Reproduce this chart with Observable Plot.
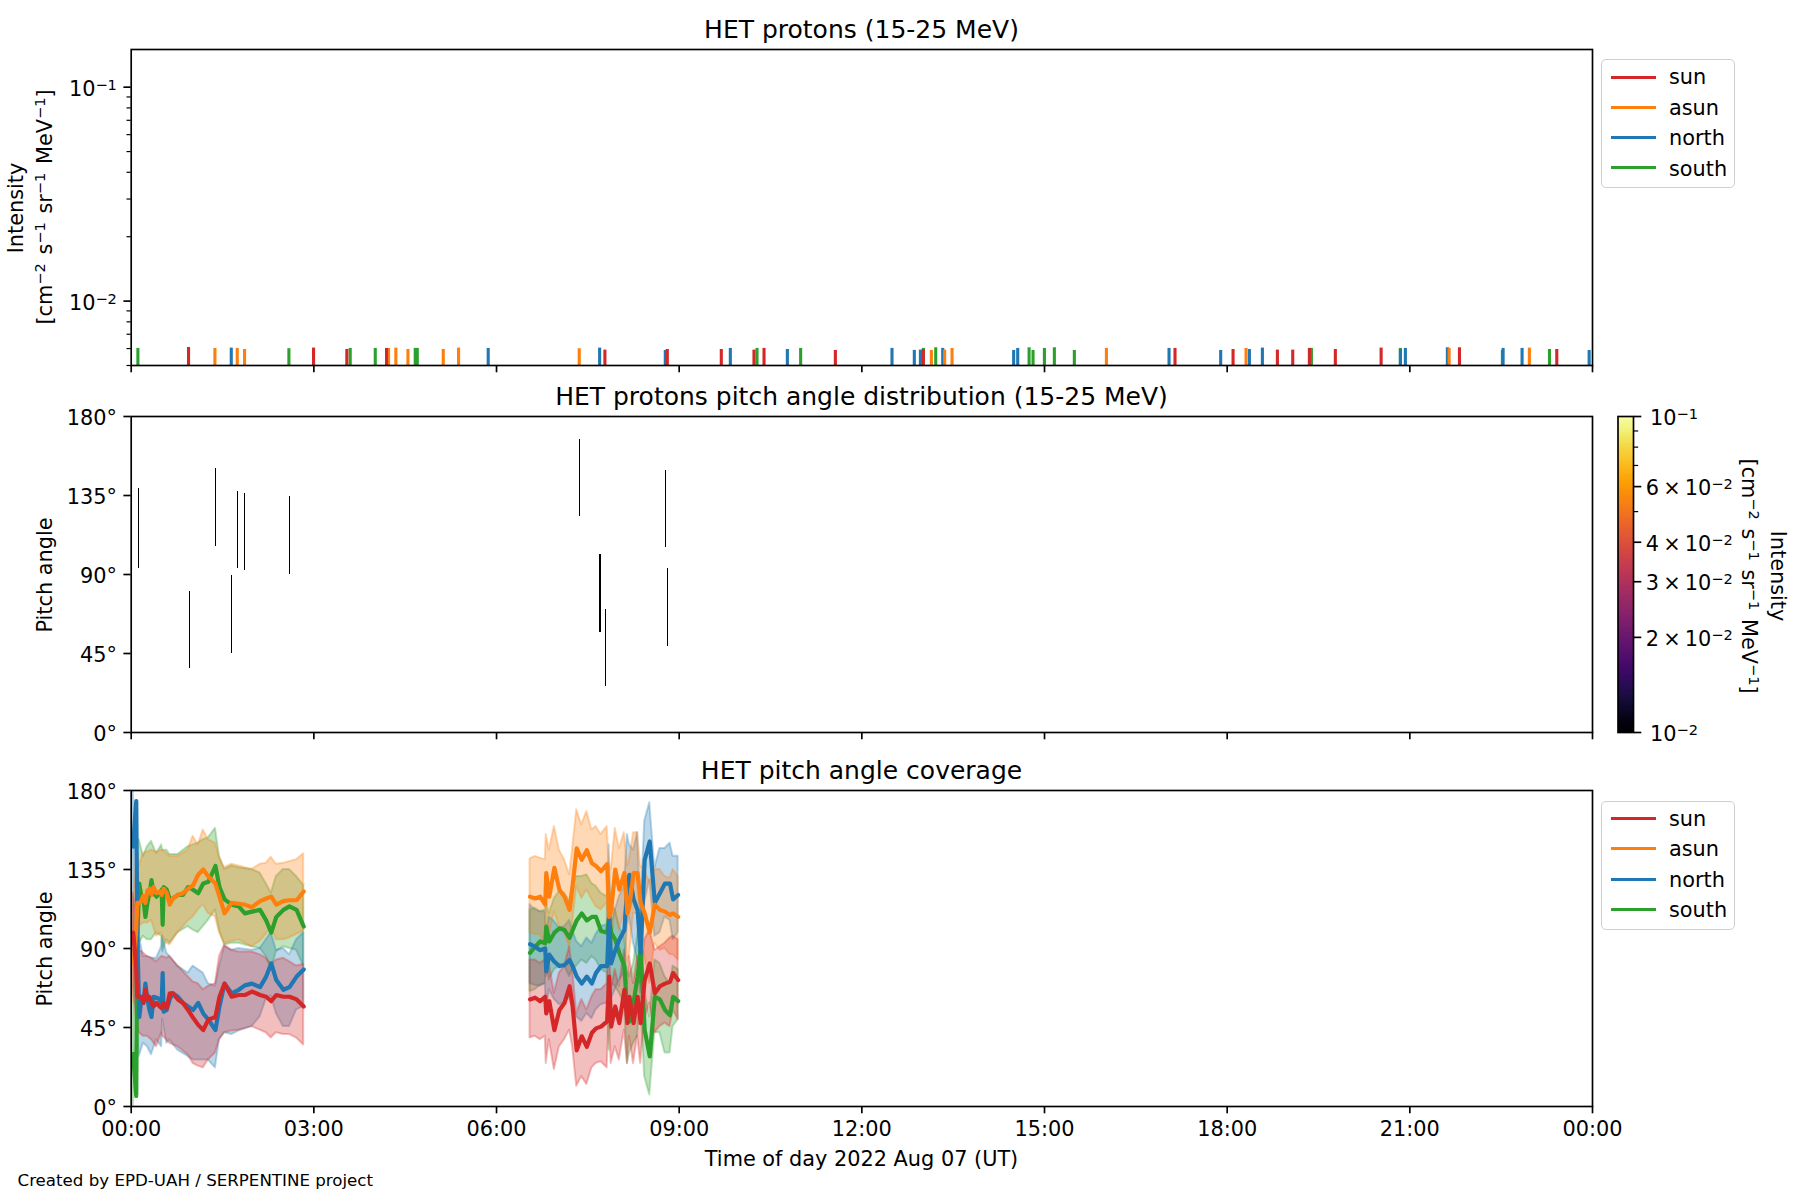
<!DOCTYPE html>
<html>
<head>
<meta charset="utf-8">
<script src="https://cdn.jsdelivr.net/npm/d3@7"></script>
<script src="https://cdn.jsdelivr.net/npm/@observablehq/plot@0.6"></script>
<style>
html,body{margin:0;padding:0;background:#fff;}
#fig{position:relative;width:1800px;height:1200px;overflow:hidden;font-family:"DejaVu Sans",sans-serif;color:#000;}
#fig svg{position:absolute;left:0;background:transparent;max-width:none;}
.t{position:absolute;white-space:nowrap;line-height:1;}
.t sup{font-size:.7em;vertical-align:.45em;line-height:0;}
.units{word-spacing:2px;}
.legend{position:absolute;box-sizing:border-box;border:1.7px solid #cfcfcf;border-radius:5px;background:#fff;}
.legend .sw{position:absolute;height:3.1px;}
.legend .lb{position:absolute;line-height:1;font-size:20.83px;}
</style>
</head>
<body>
<div id="fig"></div>
<script>
// ---------- series ----------
const seriesNames = ["sun", "asun", "north", "south"];
const seriesColors = ["#d62728", "#ff7f0e", "#1f77b4", "#2ca02c"];
const drawOrder = ["south", "north", "asun", "sun"];

// ---------- panel 1: intensity points (minutes after 00:00, intensity) ----------
const sunRugMin = [56.5,179.7,212.5,251.6,466.8,528.3,581.5,613.7,623.6,693.9,780.6,1028.6,1085.8,1129.5,1144.6,1161,1186.6,1231.7,1308.9,1404.8];
const sunRugVal = [.00607,.00603,.00594,.00601,.0059,.00594,.00594,.0059,.00601,.00588,.00594,.00601,.00594,.0059,.0059,.00601,.00594,.00603,.00605,.00594];
const asunRugMin = [82.5,104.5,111.7,253.6,260.8,272.7,307.5,322.6,441.5,788.5,801.6,808.9,961,1098.6,1298.7,1377.8];
const asunRugVal = [.00601,.00601,.00594,.00601,.00603,.00594,.00594,.00603,.00599,.00588,.0059,.00601,.00601,.00601,.00601,.00603];
const northRugMin = [98.6,351.8,461.6,526.3,590.4,646.6,749.7,771.7,777.7,799.7,869.6,873.6,1022.7,1073.6,1101.9,1114.7,1250.7,1255.6,1297,1351.9,1370.6,1436.7];
const northRugVal = [.00603,.00601,.00603,.00588,.00601,.00594,.00601,.00588,.0059,.00601,.00588,.00601,.00601,.00588,.00594,.00603,.00594,.00601,.00605,.00601,.00601,.00588];
const southRugMin = [6.6,155.4,215.8,240.5,279.9,281.9,616.7,659.7,780.6,792.8,884.8,888.7,899.9,909.7,929.4,1163,1250.7,1351.2,1397.6];
const southRugVal = [.00601,.00599,.00601,.00601,.00601,.00601,.00601,.00601,.00601,.00605,.00605,.00588,.00601,.00605,.00588,.00601,.00601,.00588,.00594];

// ---------- panel 2: pitch angle cells ----------
const padMin = [7.2,57.5,83.1,98.9,104.8,111.7,156,441.9,461.8,462.8,467.5,526.6,528.6];
const padLow = [93.4,36.5,105.9,45,93.4,92.3,90,123,57,57,26.2,105.4,49];
const padHigh = [138.8,80.1,150.2,89.2,137,136,134.2,166.7,101.2,101.2,69.9,149,93.2];
const padIntensity = [.006,.00607,.00601,.00603,.00601,.00594,.00599,.00599,.00603,.00603,.0059,.00588,.00594];

// ---------- panel 3: coverage, first stretch ----------
const mins1 = [2,3,5,6,8,10,12,14,16,18,20,22,25,28,30,31,32,35,38,41,46,51,56,61,66,71,76,83,87,92,99,106,112,119,127,133,138,143,150,156,163,170];
const asunMean1 = [82,85,101,116,116,117,120,116,123,124,120.5,125,121.5,122.5,120.5,122.5,124,121.5,115,118.5,120.5,121.5,124,126,132,135,131,127,119.5,110,116,115.5,115,113.5,117,118.5,119.5,115,117,117.5,117.5,122.5];
const southMean1 = [30,21,6,97,127,119.5,118,108,116,121.5,129,121.5,119.5,121.5,123.5,103.5,125,123.5,118,118.5,120.5,120.5,125,123.5,121.5,127,128,137,125,118,115,114,110,111,112,106,99,108,112,114,112,102.5];
const northMean1 = [148,157.5,174,97,51,61,59,70,61,55,51,62.5,62,61,59,76,54,55,61,64.5,62.5,59,57,55,59,53,49.5,43.5,57,70,64.5,66.5,69,70,68,74,81.5,72,66.5,68,74,78];
const sunMean1 = [99,93,78,62.5,62.5,62.5,59,66.5,61,62.5,59,57,59,57,56,57,59,56,64.5,64.5,61,59,55,50.5,46.5,43.5,49.5,51,62.5,70,62.5,63.5,63.5,65.5,63.5,62.5,60,63.5,62.5,62.5,61,57];

const bandMins1 = [2,6,8,12,16,20,25,30,31,35,38,46,56,61,66,71,76,83,87,92,99,106,119,127,133,138,143,150,156,163,170];
const asunHi1 = [116,146,137,144,145,146,145,146,146,144,142.5,142.5,146,154,149,157.5,152,150,141.5,136,138,137,135,138,138.5,142,138,138.5,139.5,140.5,144];
const asunLo1 = [59,97,102.5,104.5,104.5,106,97,99,97,93,92,99,105.5,108,112,115,110,108,99,93,94,95,91,94,98,102.5,95,95,96,98,100];
const southHi1 = [49,152,152,142.5,148,151,144,149,146,146,143.5,143.5,148,149,150,152,153,158.5,142.5,135,137,136,135,133,127,121.5,131,135,135,131,126];
const southLo1 = [0,47.5,93,97,95,95,99,97,88,95,93,99,102.5,100.5,99,102.5,106,112,100.5,92,93,93,91,90,85.5,78,88,91,90,89,80];
const northHi1 = [180,135,97,85.5,85.5,84.5,84.5,91,97,87.5,85.5,80,76,80,78,76,70,68.5,80,91,89,90,89,90,95,99,89,90,86.5,95,99];
const northLo1 = [97,40,28.5,36,34,29.5,38,34,49.5,36,38,32,28.5,26.5,26.5,26.5,26.5,22,38,42,41,43,45.5,51,61,63,53,45.5,45.5,55,57];
const sunHi1 = [121.5,106,89,87.5,85.5,84.5,82.5,85.5,85.5,84.5,85.5,80,74,71,70,66.5,68.5,70,85.5,92,89,88,88,86.5,84.5,81,83.5,84.5,82.5,80,81];
const sunLo1 = [68.5,45.5,42,40,40,38,34,42,40,38,36,34,29.5,24.5,23,22,26.5,30.5,38,42,43,43.5,45.5,43.5,42,39,42,41,41,39,35];

// ---------- panel 3: coverage, second stretch ----------
const mins2 = [393,398,403,408,409,412,417,422,427,432,435,439,444,449,454,458,463,469,471,473,477,481,486,489,491,495,499,502,506,511,516,521,526,531,534,539];
const asunMean2 = [119.5,118.5,119.5,115,133,119.5,136,123.5,119.5,112,126,147,140.5,146,138.5,137,134,138,108,112,135,123.5,133,110,114,133,133,116,110,99,115,112,111,109,110,108];
const southMean2 = [87.5,91,94,93,102.5,94,99,101.5,100.5,96,100.5,106,110,106,108,108,100,99,108,99,95,87.5,80,51,48.5,59,74,89,43.5,28.5,62.5,61,55,52,62.5,60];
const northMean2 = [92.5,91,89,90,77,86.5,82.5,80,80.5,83.5,80,74,70,74,70,76,80,80,108,81.5,89,95,100.5,127,132,118,112,87.5,140.5,151,116,121.5,127,127,118,120.5];
const sunMean2 = [61,62,60,62.5,53,60,43.5,55,59,68.5,57,32,40,34,42,44.5,45.5,48.5,74,45.5,57,47.5,66.5,47.5,62.5,47.5,62.5,47.5,72,81.5,64.5,68.5,70,71,76,72];
const asunHi2 = [141,142.5,141.5,140.5,155,146,159.5,146,140.5,132,147,169,160.5,168,157.5,159.5,155,159.5,137,135,158.5,147,156,137,140.5,156,156,137,135,127,135,135,131,130,135,131];
const asunLo2 = [99,98,98,91,112,97,111,102.5,99,91,104.5,125.5,118.5,123.5,118,114,112,116,80,87.5,112,100.5,110,81.5,85.5,110,110,95,85.5,70,93,89,90,86.5,86.5,83.5];
const southHi2 = [112,113,111,112,116,110,118.5,122.5,121.5,117,126,131,131,132,127,125.5,121.5,119.5,129,116,112,102.5,97,78,74,81.5,97,110,66.5,51,83.5,81.5,74,70,80,78];
const southLo2 = [65.5,66.5,69,70,81.5,72,78,80,80,74,78,80,83.5,81.5,85.5,83.5,78,76,32,70,68.5,64.5,59,24.5,30.5,36,40,62.5,17,6.5,42,42,30.5,30.5,45.5,49.5];
const northHi2 = [115,112,111,111,99,108,105.5,101.5,102.5,106,100.5,94,91,96,93,98,102.5,103.5,149,103.5,112,119.5,125.5,155,149,146,156,110,162.5,173,136,147,147,150,142.5,142.5];
const northLo2 = [70,69,68.5,70,55,66.5,61,58,59,62,57,51,48.5,53,50,55,58,59,68.5,61,66.5,72,76,102.5,108,93,83.5,64.5,116,129,97,99,108,106,95,99];
const sunHi2 = [83.5,83.5,81.5,83.5,74,81.5,64.5,76,80,91,78,53,61,55,62.5,66.5,66.5,70,99,66.5,78,68.5,89,70,85.5,70,85.5,70,95,100.5,89,91,93,96,97,95];
const sunLo2 = [39,40,38,40,24.5,38,21,34,38,43.5,34,11.5,17,12.5,22,24.5,25.5,22,51,24.5,34,26.5,43.5,24.5,40,24.5,40,24.5,49.5,59,42,45.5,47.5,45.5,55,49.5];

// ---------- ticks and texts ----------
const tickHours = [0,3,6,9,12,15,18,21,24];
const angleTicks = [0,45,90,135,180];
const intensityMajor = [0.01,0.1];
const intensityMinor = [0.005,0.006,0.007,0.008,0.009,0.02,0.03,0.04,0.05,0.06,0.07,0.08,0.09];
const cbarMajor = [0.01,0.02,0.03,0.04,0.06,0.1];
const cbarMinor = [0.05,0.07,0.08,0.09];
const cbarLabels = {0.01:"\u200910^−2",0.02:"2\u2009×\u200910^−2",0.03:"3\u2009×\u200910^−2",0.04:"4\u2009×\u200910^−2",0.06:"6\u2009×\u200910^−2",0.1:"\u200910^−1"};
const unitsHtml = "<span class='units'>[cm<sup>−2</sup> s<sup>−1</sup> sr<sup>−1</sup> MeV<sup>−1</sup>]</span>";

// ---------- helpers ----------
const fig = document.getElementById("fig");
const dayStart = Date.UTC(2022,7,7);
const at = m => new Date(dayStart + m*60000);
const xDomain = [at(0), at(1440)];
const tickDates = tickHours.map(h => at(h*60));
const colorOf = n => seriesColors[seriesNames.indexOf(n)];
const AXW = 1.67, TICK = 7.3, MINOR = 4.2, FS = 20.83;
const noLabel = () => "";

function put(plot, top){
  plot.style.top = top + "px";
  plot.querySelectorAll('g[aria-label="y-axis tick label"] text').forEach(t => t.setAttribute("y","0.42em"));
  plot.querySelectorAll("text").forEach(t => {
    const s = t.textContent;
    if (s.includes("^")) {
      const [a,b] = s.split("^");
      t.textContent = a;
      const sp = document.createElementNS("http://www.w3.org/2000/svg","tspan");
      sp.setAttribute("dy","-0.42em");
      sp.setAttribute("font-size","70%");
      sp.textContent = b;
      t.appendChild(sp);
    }
  });
  fig.appendChild(plot);
}
function text(html, x, y, size, rot){
  const d = document.createElement("div");
  d.className = "t";
  d.innerHTML = html;
  d.style.left = x + "px";
  d.style.top = y + "px";
  d.style.fontSize = size + "px";
  d.style.transform = "translate(-50%,-50%)" + (rot ? ` rotate(${rot}deg)` : "");
  fig.appendChild(d);
}
function leftText(html, x, y, size){
  const d = document.createElement("div");
  d.className = "t";
  d.innerHTML = html;
  d.style.left = x + "px";
  d.style.top = y + "px";
  d.style.fontSize = size + "px";
  d.style.transform = "translateY(-50%)";
  fig.appendChild(d);
}
function legend(top){
  const b = document.createElement("div");
  b.className = "legend";
  Object.assign(b.style,{left:"1601px",top:top+"px",width:"134px",height:"129px"});
  seriesNames.forEach((n,i) => {
    const sw = document.createElement("div");
    sw.className = "sw";
    Object.assign(sw.style,{left:"9px",width:"44.5px",top:(15.5+i*30.3)+"px",background:seriesColors[i]});
    b.appendChild(sw);
    const lb = document.createElement("div");
    lb.className = "lb";
    lb.textContent = n;
    Object.assign(lb.style,{left:"67px",top:(7+i*30.5)+"px"});
    b.appendChild(lb);
  });
  fig.appendChild(b);
}
const plotBase = {
  width:1800, marginLeft:130.7, marginRight:208, marginTop:10,
  style:{fontFamily:"DejaVu Sans",fontSize:FS+"px",background:"transparent",color:"#000",overflow:"visible"},
  x:{type:"utc",domain:xDomain}
};
function xAxis(labels){
  return Plot.axisX({ticks:tickDates,tickSize:TICK,strokeWidth:AXW,tickPadding:7,label:null,
    tickFormat: labels ? (d => d3.utcFormat("%H:%M")(d)) : noLabel, fontSize:FS});
}
function angleAxis(){
  return Plot.axisY({ticks:angleTicks,tickSize:TICK,strokeWidth:AXW,tickPadding:7,label:null,tickFormat:d=>d+"°",fontSize:FS});
}
const frame = Plot.frame({stroke:"#000",strokeWidth:AXW});

// ---------- panel 1 ----------
const rugs = {sun:[sunRugMin,sunRugVal],asun:[asunRugMin,asunRugVal],north:[northRugMin,northRugVal],south:[southRugMin,southRugVal]};
const rugMarks = drawOrder.map(n => Plot.ruleX(rugs[n][0].map((m,i)=>({t:at(m),v:rugs[n][1][i]})),
  {x:"t",y1:()=>0.005,y2:"v",stroke:colorOf(n),strokeWidth:3.1}));
put(Plot.plot({...plotBase,height:316+10+15,marginBottom:15,
  y:{type:"log",domain:[0.005,0.15]},
  marks:[
    ...rugMarks,
    Plot.axisY({ticks:intensityMinor,tickSize:MINOR,strokeWidth:1.2,tickFormat:noLabel,label:null}),
    Plot.axisY({ticks:intensityMajor,tickSize:TICK,strokeWidth:AXW,tickPadding:7,label:null,
      tickFormat:d=>d===0.1?"10^−1":"10^−2",fontSize:FS}),
    xAxis(false),frame
  ]}),39);

// ---------- panel 2 ----------
put(Plot.plot({...plotBase,height:316+10+15,marginBottom:15,
  y:{domain:[0,180]},
  color:{type:"log",domain:[0.01,0.1],scheme:"inferno",clamp:true},
  marks:[
    Plot.ruleX(padMin.map((m,i)=>({t:at(m),lo:padLow[i],hi:padHigh[i],v:padIntensity[i]})),
      {x:"t",y1:"lo",y2:"hi",stroke:"v",strokeWidth:1,shapeRendering:"crispEdges"}),
    angleAxis(),xAxis(false),frame
  ]}),406);

// ---------- panel 3 ----------
function rows(mins,cols){return mins.map((m,i)=>{const r={t:at(m)};for(const k in cols)r[k]=cols[k][i];return r;});}
const cover = {
  sun:[[mins1,sunMean1,bandMins1,sunLo1,sunHi1],[mins2,sunMean2,mins2,sunLo2,sunHi2]],
  asun:[[mins1,asunMean1,bandMins1,asunLo1,asunHi1],[mins2,asunMean2,mins2,asunLo2,asunHi2]],
  north:[[mins1,northMean1,bandMins1,northLo1,northHi1],[mins2,northMean2,mins2,northLo2,northHi2]],
  south:[[mins1,southMean1,bandMins1,southLo1,southHi1],[mins2,southMean2,mins2,southLo2,southHi2]]
};
const bandMarks = drawOrder.flatMap(n => cover[n].map(s => Plot.areaY(rows(s[2],{lo:s[3],hi:s[4]}),
  {x:"t",y1:"lo",y2:"hi",fill:colorOf(n),fillOpacity:0.3,stroke:colorOf(n),strokeOpacity:0.3,strokeWidth:2,clip:true})));
const lineMarks = drawOrder.flatMap(n => cover[n].map(s => Plot.lineY(rows(s[0],{v:s[1]}),
  {x:"t",y:"v",stroke:colorOf(n),strokeWidth:4.17,clip:true})));
put(Plot.plot({...plotBase,height:316+10+60,marginBottom:60,
  y:{domain:[0,180]},
  marks:[...bandMarks,...lineMarks,angleAxis(),xAxis(true),frame]}),780);

// ---------- colour bar ----------
const cbarStops = d3.range(256).map(i => [0.01*Math.pow(10,i/256),0.01*Math.pow(10,(i+1)/256)]);
put(Plot.plot({
  width:182,height:316+20,marginLeft:1.5,marginRight:165,marginTop:10,marginBottom:10,
  style:{fontFamily:"DejaVu Sans",fontSize:FS+"px",background:"transparent",color:"#000",overflow:"visible"},
  y:{type:"log",domain:[0.01,0.1]},
  color:{type:"log",domain:[0.01,0.1],scheme:"inferno"},
  marks:[
    Plot.rectY(cbarStops,{y1:d=>d[0],y2:d=>d[1],fill:d=>d[0],shapeRendering:"crispEdges",inset:0}),
    Plot.axisY({anchor:"right",ticks:cbarMinor,tickSize:MINOR,strokeWidth:1.2,tickFormat:noLabel,label:null}),
    Plot.axisY({anchor:"right",ticks:cbarMajor,tickSize:TICK,strokeWidth:AXW,tickPadding:5,label:null,
      tickFormat:d=>cbarLabels[d],fontSize:FS}),
    frame
  ]}),406);
fig.lastChild.style.left = "1616px";

// ---------- titles, labels, legends ----------
text("HET protons (15-25 MeV)",861.5,28.5,25);
text("HET protons pitch angle distribution (15-25 MeV)",861.5,395.5,25);
text("HET pitch angle coverage",861.5,770,25);
text("Intensity",16,208,FS,-90);
text(unitsHtml,45,207,FS,-90);
text("Pitch angle",45,575,FS,-90);
text("Pitch angle",45,949,FS,-90);
text("Time of day 2022 Aug 07 (UT)",861.5,1159,FS);
leftText("Created by EPD-UAH / SERPENTINE project",17.5,1181,16.67);
text("Intensity",1778,576,FS,90);
text(unitsHtml,1749,576,FS,90);
legend(59);
legend(800.5);
</script>
</body>
</html>
